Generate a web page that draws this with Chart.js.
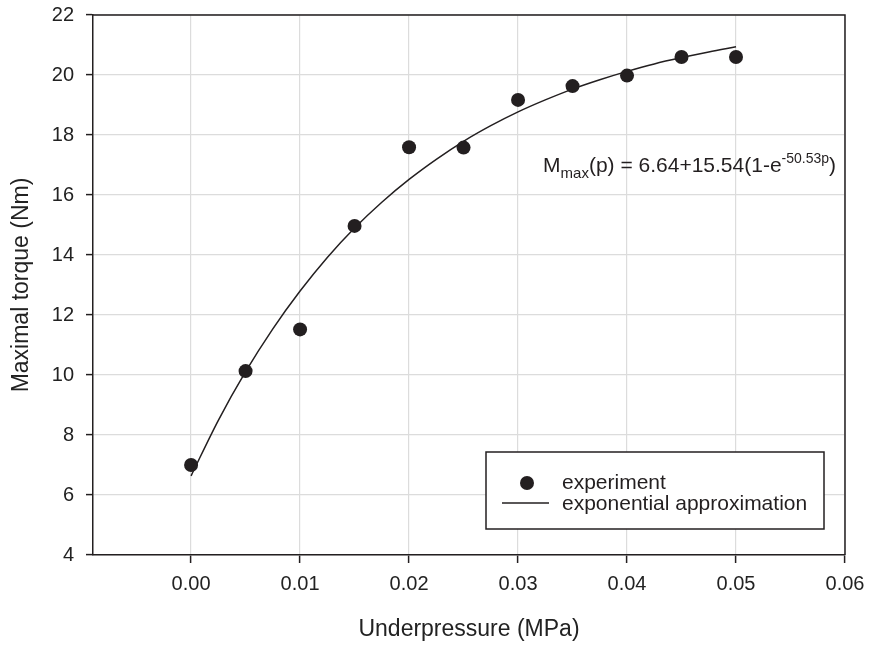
<!DOCTYPE html>
<html>
<head>
<meta charset="utf-8">
<title>Maximal torque vs underpressure</title>
<script src="https://cdn.jsdelivr.net/npm/chart.js@4.4.1/dist/chart.umd.min.js"></script>
<style>
  html, body { margin: 0; padding: 0; background: #fff; }
  #chart { display: block; }
</style>
</head>
<body>
<canvas id="chart" width="872" height="647"></canvas>
<script>
// measured points
const pressure = [0, 0.005, 0.01, 0.015, 0.02, 0.025, 0.03, 0.035, 0.04, 0.045, 0.05];
const torque = [7.0, 10.13, 11.52, 14.97, 17.59, 17.58, 19.17, 19.63, 19.98, 20.6, 20.6];

// fitted curve
const fitPressure = [0, 0.0025, 0.005, 0.0075, 0.01, 0.0125, 0.015, 0.0175, 0.02, 0.0225, 0.025,
  0.0275, 0.03, 0.0325, 0.035, 0.0375, 0.04, 0.0425, 0.045, 0.0475, 0.05];
const fitTorque = [6.64, 8.49, 10.11, 11.54, 12.80, 13.92, 14.90, 15.76, 16.52, 17.19, 17.79,
  18.31, 18.77, 19.17, 19.53, 19.84, 20.12, 20.37, 20.58, 20.77, 20.94];

const xTicks = [0, 0.01, 0.02, 0.03, 0.04, 0.05, 0.06];
const yTicks = [4, 6, 8, 10, 12, 14, 16, 18, 20, 22];

const INK = "#231f20";
const FONT = "'Liberation Sans', Arial, Helvetica, sans-serif";

// top/right frame, formula text and boxed legend
const framePlugin = {
  id: "frame",
  afterDraw(chart) {
    const { ctx, chartArea: a, scales } = chart;
    ctx.save();
    ctx.strokeStyle = INK;
    ctx.lineWidth = 1.5;
    ctx.beginPath();
    ctx.moveTo(a.left, a.top);
    ctx.lineTo(a.right, a.top);
    ctx.lineTo(a.right, a.bottom);
    ctx.stroke();

    // formula
    let x = scales.x.getPixelForValue(0.0323);
    const y = scales.y.getPixelForValue(16.77);
    const parts = [
      ["M", 21, 0], ["max", 15, 6], ["(p) = 6.64+15.54(1-e", 21, 0], ["-50.53p", 14, -9], [")", 21, 0]
    ];
    ctx.fillStyle = INK;
    ctx.textBaseline = "alphabetic";
    ctx.textAlign = "left";
    parts.forEach(([t, size, dy]) => {
      ctx.font = size + "px " + FONT;
      ctx.fillText(t, x, y + dy);
      x += ctx.measureText(t).width;
    });

    // legend box
    const bx = 486, by = 452, bw = 338, bh = 77;
    ctx.fillStyle = "#fff";
    ctx.fillRect(bx, by, bw, bh);
    ctx.strokeStyle = INK;
    ctx.lineWidth = 1.5;
    ctx.strokeRect(bx, by, bw, bh);
    const ds = chart.data.datasets;
    ctx.font = "21px " + FONT;
    ctx.textBaseline = "middle";
    ctx.fillStyle = INK;
    // marker entry
    ctx.beginPath();
    ctx.arc(bx + 41, by + 31, ds[0].pointRadius, 0, Math.PI * 2);
    ctx.fill();
    ctx.fillText(ds[0].label, bx + 76, by + 31);
    // line entry
    ctx.lineWidth = ds[1].borderWidth;
    ctx.beginPath();
    ctx.moveTo(bx + 16, by + 51);
    ctx.lineTo(bx + 63, by + 51);
    ctx.stroke();
    ctx.fillText(ds[1].label, bx + 76, by + 52);
    ctx.restore();
  }
};

new Chart(document.getElementById("chart"), {
  type: "scatter",
  data: {
    datasets: [
      {
        label: "experiment",
        data: pressure.map((p, i) => ({ x: p, y: torque[i] })),
        pointRadius: 7,
        pointBackgroundColor: INK,
        pointBorderWidth: 0,
        showLine: false,
        order: 1
      },
      {
        label: "exponential approximation",
        data: fitPressure.map((p, i) => ({ x: p, y: fitTorque[i] })),
        showLine: true,
        borderColor: INK,
        borderWidth: 1.5,
        pointRadius: 0,
        cubicInterpolationMode: "monotone",
        order: 2
      }
    ]
  },
  options: {
    responsive: false,
    animation: false,
    layout: { padding: { top: 15, right: 27, left: 0, bottom: 0 } },
    plugins: { legend: { display: false }, tooltip: { enabled: false } },
    scales: {
      x: {
        type: "linear",
        min: -0.009,
        max: 0.06,
        afterBuildTicks: (s) => { s.ticks = xTicks.map(v => ({ value: v })); },
        afterFit: (s) => { s.height = 92; s.paddingLeft = 0; s.paddingRight = 0; },
        grid: { color: "#dcdcdc", lineWidth: 1.2, tickColor: INK, tickLength: 8, tickWidth: 1.5 },
        border: { color: INK, width: 1.5 },
        ticks: {
          color: "#222", padding: 9, maxRotation: 0,
          font: { family: FONT, size: 20 },
          callback: (v) => Number(v).toFixed(2)
        },
        title: {
          display: true, text: "Underpressure (MPa)", color: "#222",
          font: { family: FONT, size: 23 }, padding: { top: 0, bottom: 4 }
        }
      },
      y: {
        min: 4,
        max: 22,
        afterBuildTicks: (s) => { s.ticks = yTicks.map(v => ({ value: v })); },
        afterFit: (s) => { s.width = 93; s.paddingTop = 0; s.paddingBottom = 0; },
        grid: { color: "#dcdcdc", lineWidth: 1.2, tickColor: INK, tickLength: 7, tickWidth: 1.5 },
        border: { color: INK, width: 1.5 },
        ticks: { color: "#222", padding: 12, font: { family: FONT, size: 20 } },
        title: {
          display: true, text: "Maximal torque (Nm)", color: "#222",
          font: { family: FONT, size: 23 }, padding: { top: 8, bottom: 0 }
        }
      }
    }
  },
  plugins: [framePlugin]
});
</script>
</body>
</html>
